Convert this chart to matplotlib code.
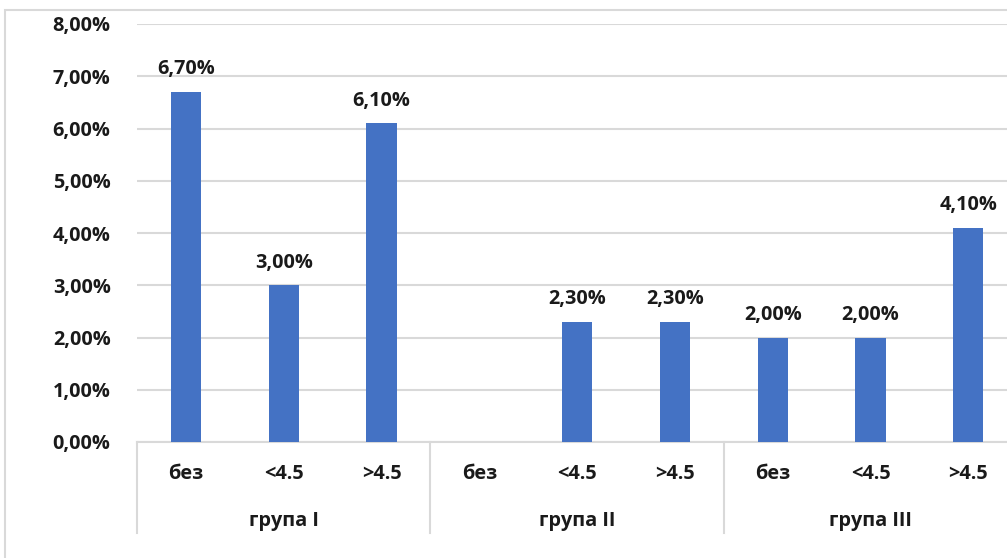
import numpy as np
import matplotlib.pyplot as plt
from matplotlib.patches import Rectangle
import matplotlib.transforms as mtransforms

plt.rcParams['font.family'] = ['Open Sans', 'DejaVu Sans']

# data
subcats = ['без', '<4.5', '>4.5'] * 3
groups = ['група I', 'група II', 'група III']
values = [6.7, 3.0, 6.1, np.nan, 2.3, 2.3, 2.0, 2.0, 4.1]
yticks = [0, 1, 2, 3, 4, 5, 6, 7, 8]

W, H = 1007, 558
fig = plt.figure(figsize=(W / 100, H / 100), dpi=100)

# plot area runs past the right edge (the source picture is cropped)
x0, y0 = 137, 442
cat_w = 97.8
ax = fig.add_axes([x0 / W, (H - y0) / H, 9 * cat_w / W, (442 - 24) / H])

grid_c = '#d9d9d9'
txt_c = '#1a1a1a'
fs = 14.3
x = np.arange(len(values))
ax.bar(x, values, width=0.31, color='#4472C4', zorder=3)

for xi, v in zip(x, values):
    if np.isnan(v):
        continue
    ax.annotate(f'{v:.2f}%'.replace('.', ','), (xi, v), xytext=(0, 9),
                textcoords='offset points', ha='center', va='bottom',
                fontsize=fs, fontweight='bold', color=txt_c)

ax.set_xlim(-0.5, 8.5)
ax.set_ylim(0, 8)
ax.set_yticks(yticks)
ax.set_yticklabels([f'{t:.2f}%'.replace('.', ',') for t in yticks],
                   fontsize=fs, fontweight='bold', color=txt_c)
ax.tick_params(axis='y', length=0, pad=19)
ax.tick_params(axis='x', length=0)
ax.set_xticks([])
ax.yaxis.grid(True, color=grid_c, linewidth=1.5, zorder=0)
for s in ['left', 'right', 'top']:
    ax.spines[s].set_visible(False)
ax.spines['bottom'].set_color(grid_c)
ax.spines['bottom'].set_linewidth(1.5)

# multi-level category labels
trans = mtransforms.blended_transform_factory(ax.transData, ax.transAxes)
ah = 442 - 24
for xi, lab in zip(x, subcats):
    ax.text(xi, -32 / ah, lab, transform=trans, ha='center', va='center',
            fontsize=fs, fontweight='bold', color=txt_c)
for gi, g in enumerate(groups):
    ax.text(gi * 3 + 1, -79 / ah, g, transform=trans, ha='center', va='center',
            fontsize=fs, fontweight='bold', color=txt_c)
for b in [-0.5, 2.5, 5.5, 8.5]:
    ax.plot([b, b], [0, -91 / ah], transform=trans, color=grid_c,
            linewidth=1.5, clip_on=False)

# chart area border
fig.patches.append(Rectangle((5 / W, -0.1), 1.2, (H - 10) / H + 0.1,
                             transform=fig.transFigure, fill=False,
                             edgecolor=grid_c, linewidth=1.5))

fig.savefig('out.png', dpi=100)
